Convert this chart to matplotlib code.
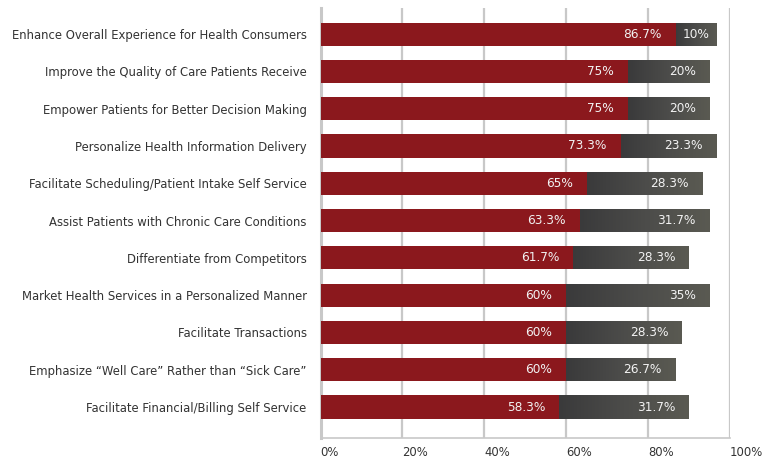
import numpy as np
import matplotlib
matplotlib.use("Agg")
import matplotlib.pyplot as plt
from matplotlib.colors import LinearSegmentedColormap

categories = [
    "Enhance Overall Experience for Health Consumers",
    "Improve the Quality of Care Patients Receive",
    "Empower Patients for Better Decision Making",
    "Personalize Health Information Delivery",
    "Facilitate Scheduling/Patient Intake Self Service",
    "Assist Patients with Chronic Care Conditions",
    "Differentiate from Competitors",
    "Market Health Services in a Personalized Manner",
    "Facilitate Transactions",
    "Emphasize \u201cWell Care\u201d Rather than \u201cSick Care\u201d",
    "Facilitate Financial/Billing Self Service",
]
red_values = [86.7, 75, 75, 73.3, 65, 63.3, 61.7, 60, 60, 60, 58.3]
gray_values = [10, 20, 20, 23.3, 28.3, 31.7, 28.3, 35, 28.3, 26.7, 31.7]
x_ticks = [0, 20, 40, 60, 80, 100]

RED = "#8b181d"
GRID = "#c8c8c8"
gray_cmap = LinearSegmentedColormap.from_list("g", ["#3a3a3b", "#4c4c4a", "#5a5a52"])

fig = plt.figure(figsize=(7.76, 4.59), dpi=100)
ax = fig.add_axes([320.5 / 776, 21 / 459, 409.5 / 776, 430 / 459])

y = np.arange(len(categories))
h = 0.62

ax.barh(y, red_values, height=h, color=RED, zorder=3)
gray_bars = ax.barh(y, gray_values, left=red_values, height=h, color="#4a4a48", zorder=3)

# horizontal gradient on the gray segments
grad = np.linspace(0, 1, 256).reshape(1, -1)
for bar in gray_bars:
    x0, yb = bar.get_x(), bar.get_y()
    im = ax.imshow(grad, cmap=gray_cmap, aspect="auto", zorder=4,
                   extent=[x0, x0 + bar.get_width(), yb + h, yb],
                   interpolation="bilinear")
    im.set_clip_path(bar)

pad = 3.4
for i, (r, g) in enumerate(zip(red_values, gray_values)):
    ax.text(r - pad, i, f"{r:g}%", ha="right", va="center",
            color="#f2f2f2", fontsize=8.7, zorder=5)
    if g < 12:
        ax.text(r + g / 2, i, f"{g:g}%", ha="center", va="center",
                color="#f2f2f2", fontsize=8.7, zorder=5)
    else:
        ax.text(r + g - pad, i, f"{g:g}%", ha="right", va="center",
                color="#f2f2f2", fontsize=8.7, zorder=5)

ax.set_xlim(0, 100)
ax.set_ylim(len(categories) - 1 + 0.83, -0.7)

ax.set_yticks(y)
ax.set_yticklabels(categories, fontsize=8.4, color="#333333")
ax.set_xticks(x_ticks)
ax.set_xticklabels([f"{t}%" for t in x_ticks], fontsize=8.4, color="#333333", ha="left")
ax.tick_params(axis="y", length=0, pad=10)
ax.tick_params(axis="x", length=0, pad=6)

ax.grid(axis="x", color=GRID, linewidth=1.6, zorder=0)
ax.set_axisbelow(True)
for side in ["top", "right"]:
    ax.spines[side].set_visible(False)
ax.spines["left"].set_color(GRID)
ax.spines["left"].set_linewidth(2.2)
ax.spines["bottom"].set_color(GRID)
ax.spines["bottom"].set_linewidth(1.2)

fig.savefig("out.png", dpi=100)
